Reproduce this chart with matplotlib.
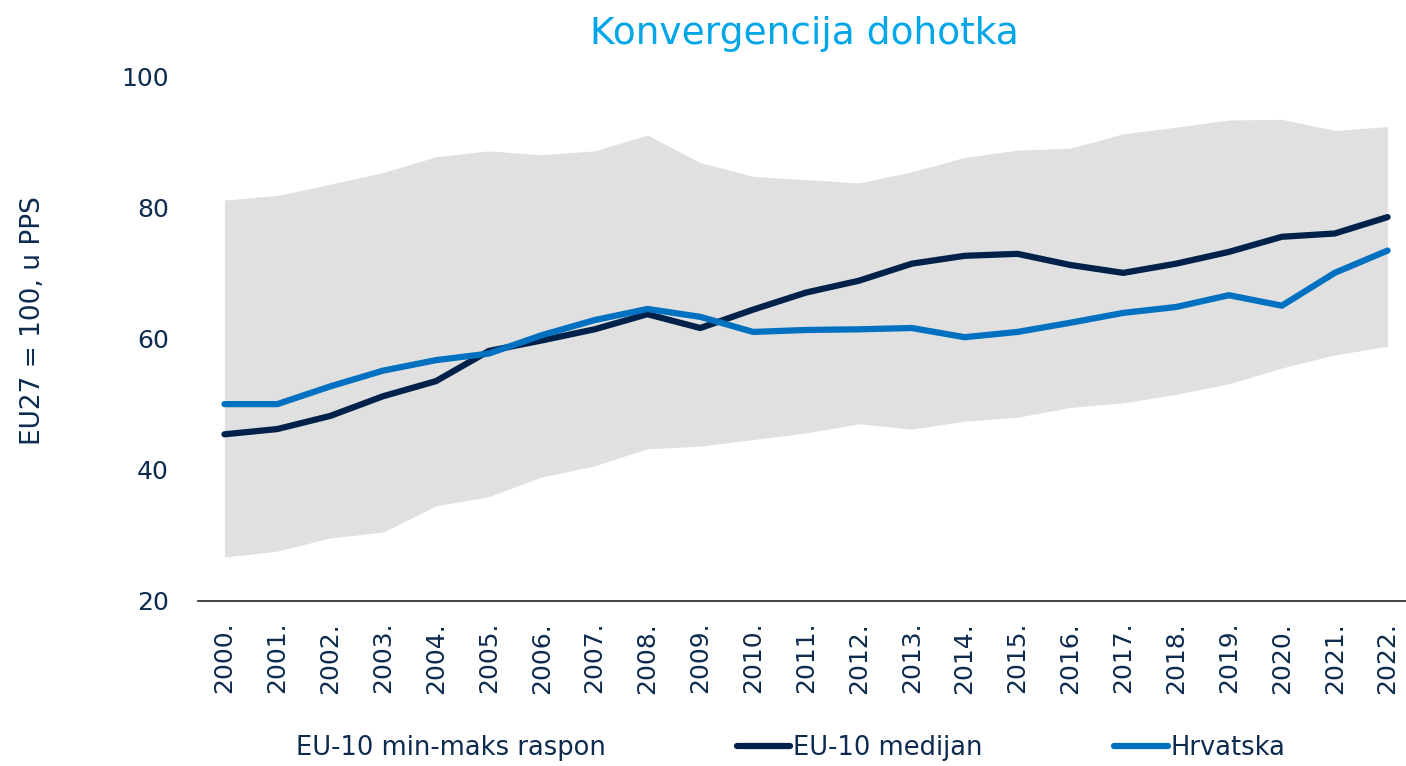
import numpy as np
import matplotlib
matplotlib.use('Agg')
import matplotlib.pyplot as plt
from matplotlib.lines import Line2D

# ---------- 数据 ----------
years = [str(y) + '.' for y in range(2000, 2023)]
eu10_min = [26.7, 27.6, 29.6, 30.5, 34.5, 35.9, 38.9, 40.6, 43.2, 43.6, 44.6, 45.6,
            47.0, 46.2, 47.4, 48.0, 49.5, 50.2, 51.5, 53.1, 55.5, 57.5, 58.8]
eu10_max = [81.1, 81.8, 83.5, 85.3, 87.7, 88.6, 88.0, 88.6, 91.0, 86.8, 84.7, 84.2,
            83.7, 85.4, 87.6, 88.7, 89.0, 91.2, 92.2, 93.3, 93.4, 91.7, 92.3]
eu10_median = [45.4, 46.2, 48.2, 51.2, 53.5, 58.1, 59.7, 61.4, 63.7, 61.6, 64.4, 67.0,
               68.8, 71.4, 72.6, 72.9, 71.2, 70.0, 71.4, 73.2, 75.5, 76.0, 78.5]
hrvatska = [50.0, 50.0, 52.7, 55.1, 56.7, 57.7, 60.5, 62.8, 64.5, 63.3, 61.0, 61.3,
            61.4, 61.6, 60.2, 61.0, 62.4, 63.9, 64.8, 66.6, 65.0, 70.0, 73.4]
yticks = [20, 40, 60, 80, 100]

# 配色
C_TEXT = '#0D2B4E'
C_TITLE = '#00A6E8'
C_MEDIAN = '#00224A'
C_HRV = '#0070C0'
C_FILL = '#E0E0E0'

plt.rcParams['font.family'] = ['DejaVu Sans']

fig = plt.figure(figsize=(14.06, 7.66), dpi=100)
ax = fig.add_axes([198 / 1406, 165 / 766, 1216 / 1406, 525 / 766])

x = np.arange(len(years))
ax.fill_between(x, eu10_min, eu10_max, color=C_FILL, lw=0, label='EU-10 min-maks raspon')
ax.plot(x, eu10_median, color=C_MEDIAN, lw=4.5, solid_capstyle='round', label='EU-10 medijan')
ax.plot(x, hrvatska, color=C_HRV, lw=4.5, solid_capstyle='round', label='Hrvatska')

ax.set_xlim(-0.5, len(years) - 0.5)
ax.set_ylim(20, 100)
ax.set_yticks(yticks)
ax.set_yticklabels([str(v) for v in yticks], fontsize=18, color=C_TEXT)
ax.set_xticks(x)
ax.set_xticklabels(years, rotation=90, fontsize=18, color=C_TEXT)
ax.tick_params(length=0)
ax.tick_params(axis='y', pad=21)
ax.tick_params(axis='x', pad=15)
for s in ['top', 'right', 'left']:
    ax.spines[s].set_visible(False)
ax.spines['bottom'].set_color('#222222')
ax.spines['bottom'].set_linewidth(1.2)

ax.set_ylabel('EU27 = 100, u PPS', fontsize=19, color=C_TEXT)
ax.yaxis.set_label_coords(-0.125, 0.535)
fig.text(0.572, 0.955, 'Konvergencija dohotka', fontsize=27, color=C_TITLE,
         ha='center', va='center')

handles = [Line2D([], [], color='none'),
           Line2D([], [], color=C_MEDIAN, lw=4.5, solid_capstyle='round'),
           Line2D([], [], color=C_HRV, lw=4.5, solid_capstyle='round')]
labels = ['EU-10 min-maks raspon', 'EU-10 medijan', 'Hrvatska']
leg = fig.legend(handles, labels, loc='center', bbox_to_anchor=(0.542, 0.024), ncol=3,
                 frameon=False, fontsize=18.5, handlelength=2.1, handletextpad=0.1,
                 columnspacing=5.1)
for t in leg.get_texts():
    t.set_color(C_TEXT)

plt.savefig('out.png', dpi=100)
